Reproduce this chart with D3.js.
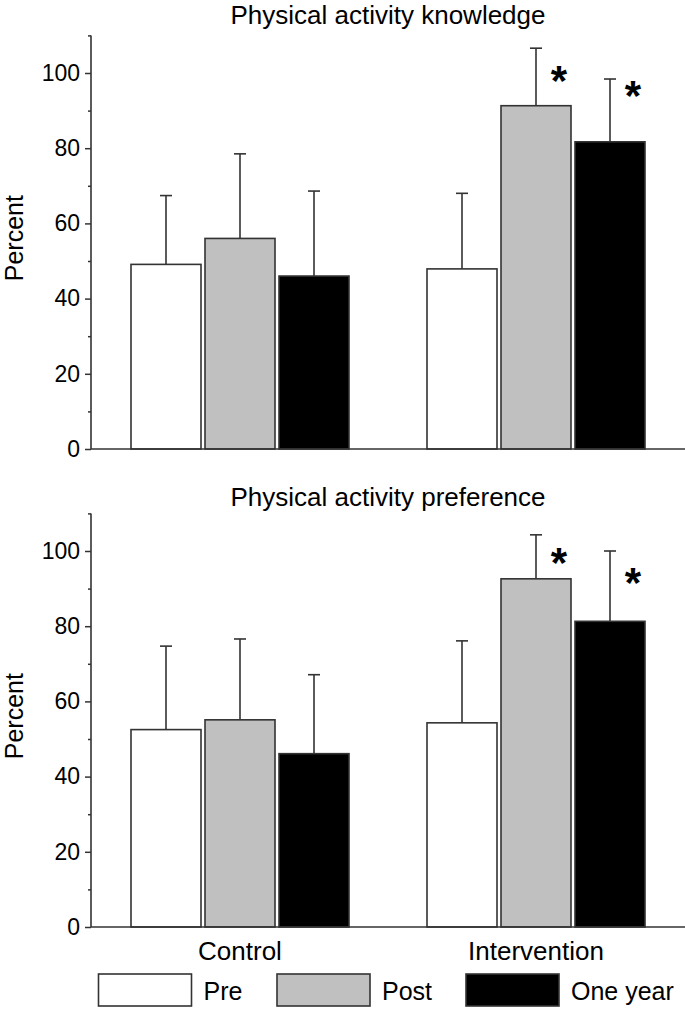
<!DOCTYPE html>
<html>
<head>
<meta charset="utf-8">
<script src="https://cdn.jsdelivr.net/npm/d3@7"></script>
<style>
  html, body { margin: 0; padding: 0; background: #fff; }
  svg text { font-family: "Liberation Sans", Arial, Helvetica, sans-serif; fill: #000; }
</style>
</head>
<body>
<svg id="chart" width="685" height="1009"></svg>
<script>
// ---- data ----
const groups = ["Control", "Intervention"];
const series = ["Pre", "Post", "One year"];
const seriesColors = ["#ffffff", "#c0c0c0", "#000000"];
const tickValues = [0, 20, 40, 60, 80, 100];
const minorTickValues = [10, 30, 50, 70, 90, 110];

const knowledgeTitle = "Physical activity knowledge";
const knowledgeMean = [[49.1, 56.0, 46.0], [47.9, 91.3, 81.7]];
const knowledgeSD   = [[18.3, 22.5, 22.6], [20.1, 15.3, 16.7]];
const knowledgeStar = [[null, null, null], [null, 100.3, 96.5]];

const preferenceTitle = "Physical activity preference";
const preferenceMean = [[52.5, 55.1, 46.1], [54.3, 92.6, 81.3]];
const preferenceSD   = [[22.2, 21.5, 21.0], [21.8, 11.7, 18.7]];
const preferenceStar = [[null, null, null], [null, 99.4, 94.1]];

const yLabel = "Percent";

// ---- layout ----
const svg = d3.select("#chart");
const axisLeft = 91, axisRight = 685;

const x0 = d3.scaleBand().domain(groups).range([92, 684])
  .paddingInner(78 / 296).paddingOuter(39 / 296);
const x1 = d3.scaleBand().domain(series).range([0, x0.bandwidth()])
  .paddingInner(4 / 74).paddingOuter(0);
const color = d3.scaleOrdinal().domain(series).range(seriesColors);

function panel(title, means, sds, stars, yBottom, yTop, titleY) {
  const y = d3.scaleLinear().domain([0, 110]).range([yBottom, yTop]);
  const g = svg.append("g");

  // title
  g.append("text")
    .attr("x", 388)
    .attr("y", titleY)
    .attr("text-anchor", "middle")
    .style("font-size", "26px")
    .text(title);

  // y label
  g.append("text")
    .attr("transform", `translate(23,${(yBottom + yTop) / 2 - 4}) rotate(-90)`)
    .attr("text-anchor", "middle")
    .style("font-size", "25px")
    .text(yLabel);

  // bars
  groups.forEach((grp, gi) => {
    series.forEach((s, si) => {
      const bx = x0(grp) + x1(s);
      const v = means[gi][si];
      const sd = sds[gi][si];
      const cx = bx + x1.bandwidth() / 2;
      g.append("line")
        .attr("x1", cx).attr("x2", cx)
        .attr("y1", y(v)).attr("y2", y(v + sd))
        .attr("stroke", "#333").attr("stroke-width", 1.6);
      g.append("line")
        .attr("x1", cx - 6).attr("x2", cx + 6)
        .attr("y1", y(v + sd)).attr("y2", y(v + sd))
        .attr("stroke", "#333").attr("stroke-width", 1.6);
      g.append("rect")
        .attr("x", bx).attr("width", x1.bandwidth())
        .attr("y", y(v)).attr("height", y(0) - y(v))
        .attr("fill", color(s))
        .attr("stroke", "#333").attr("stroke-width", 1.6);
      const st = stars[gi][si];
      if (st != null) {
        g.append("text")
          .attr("x", cx + 23)
          .attr("y", y(st))
          .attr("dy", "0.56em")
          .attr("text-anchor", "middle")
          .style("font-size", "42px")
          .style("font-weight", "bold")
          .text("*");
      }
    });
  });

  // y axis
  const ax = d3.axisLeft(y).tickValues(tickValues).tickSize(6).tickPadding(5)
    .tickFormat(d3.format("d"));
  const ag = g.append("g").attr("transform", `translate(${axisLeft},0)`).call(ax);
  ag.select(".domain").remove();
  ag.selectAll(".tick line").attr("stroke", "#333").attr("stroke-width", 1.5);
  ag.selectAll(".tick text").style("font-size", "23px")
    .style("font-family", '"Liberation Sans", Arial, sans-serif').attr("fill", "#000");
  const mg = g.append("g").attr("transform", `translate(${axisLeft},0)`)
    .call(d3.axisLeft(y).tickValues(minorTickValues).tickSize(3).tickFormat(""));
  mg.select(".domain").remove();
  mg.selectAll(".tick line").attr("stroke", "#333").attr("stroke-width", 1.5);

  g.append("line")
    .attr("x1", axisLeft).attr("x2", axisLeft)
    .attr("y1", y(110)).attr("y2", y(0))
    .attr("stroke", "#333").attr("stroke-width", 1.6);
  g.append("line")
    .attr("x1", axisLeft).attr("x2", axisRight)
    .attr("y1", y(0)).attr("y2", y(0))
    .attr("stroke", "#333").attr("stroke-width", 1.6);
  return y;
}

panel(knowledgeTitle, knowledgeMean, knowledgeSD, knowledgeStar, 449, 35.4, 24);
panel(preferenceTitle, preferenceMean, preferenceSD, preferenceStar, 927, 513.4, 506);

// category labels
svg.selectAll(".cat").data(groups).enter().append("text")
  .attr("class", "cat")
  .attr("x", d => x0(d) + x0.bandwidth() / 2)
  .attr("y", 960)
  .attr("text-anchor", "middle")
  .style("font-size", "26px")
  .text(d => d);

// legend
const legendBoxX = [98.5, 277, 466];
const lg = svg.append("g");
series.forEach((s, i) => {
  lg.append("rect")
    .attr("x", legendBoxX[i]).attr("y", 974)
    .attr("width", 93).attr("height", 32)
    .attr("fill", color(s)).attr("stroke", "#333").attr("stroke-width", 1.6);
  lg.append("text")
    .attr("x", legendBoxX[i] + 105).attr("y", 1000)
    .style("font-size", "25px")
    .text(s);
});
</script>
</body>
</html>
